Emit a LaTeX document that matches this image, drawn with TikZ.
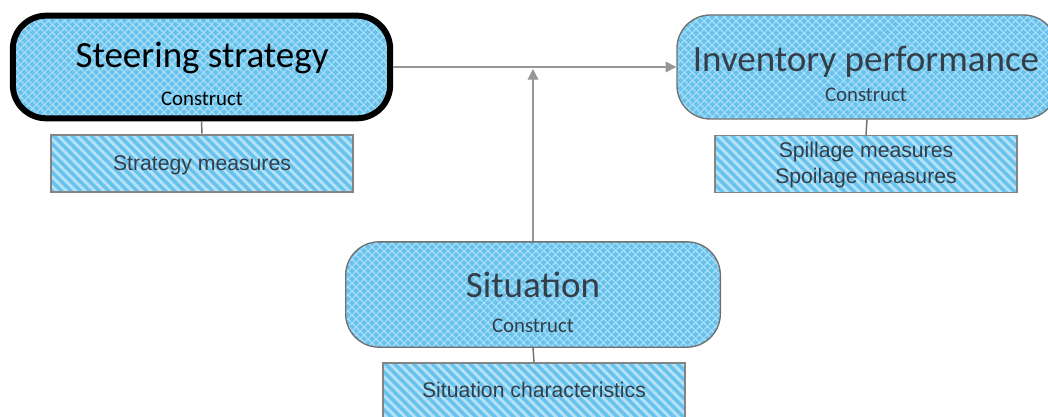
\documentclass[tikz,border=0pt]{standalone}
\usepackage{fontspec}
\setmainfont{Carlito}
\newfontfamily\arialfont{Liberation Sans}
\usetikzlibrary{arrows.meta,patterns.meta}
\definecolor{cblue}{RGB}{104,194,238}
\definecolor{chatch}{RGB}{180,226,246}
\definecolor{cborder}{RGB}{112,112,112}
\definecolor{ctext}{RGB}{52,62,72}
\definecolor{cline}{RGB}{150,150,150}

\begin{document}
\begin{tikzpicture}[x=0.75pt, y=-0.75pt, >={Triangle[length=8pt,width=8pt]},
  construct/.style={draw=cborder, line width=1pt, rounded corners=25pt,
              minimum width=#1, minimum height=78pt, inner sep=0pt,
              preaction={fill=cblue},
              preaction={pattern={Lines[angle=45,distance=4pt,line width=1pt]}, pattern color=chatch},
              pattern={Lines[angle=-45,distance=4pt,line width=1pt]}, pattern color=chatch},
  measures/.style={draw=cborder!85, line width=1pt, minimum width=226.5pt,
              minimum height=42.75pt, inner sep=0pt, preaction={fill=cblue},
              pattern={Lines[angle=-45,distance=5pt,line width=2.2pt]}, pattern color=chatch},
  title/.style={anchor=base, inner sep=0pt, text=ctext, font=\fontsize{27.75}{30}\selectfont},
  sub/.style={anchor=base, inner sep=0pt, text=ctext, font=\fontsize{15.6}{18}\selectfont},
  meas/.style={anchor=base, inner sep=0pt, text=ctext, font=\arialfont\fontsize{15.9}{19}\selectfont},
  link/.style={cborder, line width=1.1pt},
  flow/.style={cline, line width=0.9pt, ->}]

\clip (0,0) rectangle (1048,417);

% --- steering strategy ---
\node[construct=283pt, draw=black, line width=4.5pt, minimum height=77pt] (steer) at (201.5,67) {};
\node[title, text=black] (steertitle) at (202,68) {Steering strategy};
\node[sub, text=black] (steersub) at (202,106) {Construct};
\node[measures] (steermeas) at (202,163.5) {};
\node[meas] (steermeastext) at (202,171) {Strategy measures};
\draw[link] (steer.south) -- (steermeas.north);

% --- inventory performance ---
\node[construct=285pt] (inv) at (867,67) {};
\node[title] (invtitle) at (866,72) {Inventory performance};
\node[sub] (invsub) at (866,102) {Construct};
\node[measures] (invmeas) at (866,164) {};
\node[meas] (invmeastext1) at (866,157) {Spillage measures};
\node[meas] (invmeastext2) at (866,183) {Spoilage measures};
\draw[link] (inv.south) -- (invmeas.north);

% --- situation ---
\node[construct=281pt, minimum height=79pt] (sit) at (533,294.5) {};
\node[title] (sittitle) at (533,297) {Situation};
\node[sub] (sitsub) at (533,332) {Construct};
\node[measures] (sitmeas) at (534,391.5) {};
\node[meas] (sitmeastext) at (534,397) {Situation characteristics};
\draw[link] (sit.south) -- (sitmeas.north);

% --- relations ---
\coordinate (join) at (533,67);
\draw[flow] (steer.east) -- (inv.west);
\draw[flow, shorten >=1.5pt] (sit.north) -- (join);
\end{tikzpicture}
\end{document}
